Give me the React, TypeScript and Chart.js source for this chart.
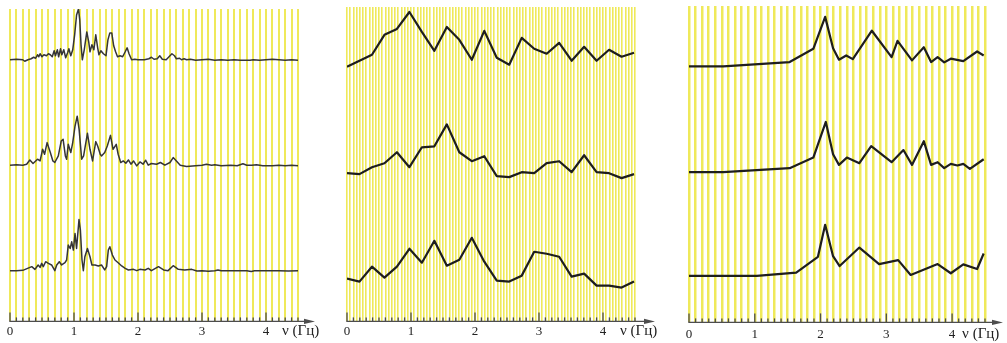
import React, { useEffect, useRef } from "react";
import { Chart, registerables } from "chart.js";

Chart.register(...registerables);

// ---------- shared axis data ----------
const freqMin = 0;
const freqMax = 4.5;
const axisTitle = "ν (Гц)";

// ---------- left panel (dense spectra) ----------
const leftTopFreq = [0, 0.1, 0.2, 0.23, 0.28, 0.33, 0.37, 0.4, 0.43, 0.45, 0.47, 0.5, 0.53, 0.57, 0.6, 0.63, 0.66, 0.69, 0.71, 0.74, 0.76, 0.79, 0.81, 0.84, 0.87, 0.9, 0.92, 0.95, 0.98, 1.01, 1.04, 1.07, 1.09, 1.11, 1.13, 1.16, 1.2, 1.23, 1.25, 1.28, 1.31, 1.34, 1.37, 1.39, 1.42, 1.46, 1.5, 1.53, 1.56, 1.59, 1.62, 1.65, 1.68, 1.72, 1.76, 1.8, 1.83, 1.86, 1.9, 1.95, 2.0, 2.1, 2.17, 2.21, 2.25, 2.3, 2.34, 2.38, 2.44, 2.5, 2.53, 2.57, 2.6, 2.65, 2.68, 2.72, 2.76, 2.82, 2.9, 3.0, 3.1, 3.2, 3.3, 3.4, 3.5, 3.6, 3.75, 3.8, 3.9, 4.0, 4.1, 4.2, 4.3, 4.4, 4.5];
const leftTopAmp = [0, 0.5, 0, -1.5, 0, 1, 2.5, 1.5, 5, 3, 6, 3, 5, 4, 6, 5, 3, 9, 4, 10, 3, 11, 5, 10, 2, 7, 11, 4, 10, 25, 45, 51, 40, 15, 0, 10, 28, 18, 8, 15, 10, 25, 12, 5, 9, 6, 4, 20, 27, 27, 14, 8, 3, 4, 3, 8, 12, 6, 0, 0.5, 0, 0, 1, 2.5, 0.5, 1, 4, 0.5, 0, 4, 6, 4, 1, 1.5, 0, 1, 0, 0.5, -0.5, 0, 0.5, -0.5, 0, -0.5, 0, -0.5, -0.5, 0, -0.5, 0, 0.5, 0, -0.5, 0, -0.5];

const leftMidFreq = [0, 0.1, 0.2, 0.26, 0.31, 0.36, 0.43, 0.47, 0.51, 0.54, 0.58, 0.63, 0.67, 0.7, 0.755, 0.8, 0.83, 0.865, 0.885, 0.91, 0.95, 0.98, 1.016, 1.05, 1.08, 1.12, 1.15, 1.21, 1.25, 1.29, 1.34, 1.37, 1.41, 1.43, 1.48, 1.52, 1.57, 1.61, 1.66, 1.69, 1.73, 1.77, 1.81, 1.85, 1.89, 1.93, 1.98, 2.03, 2.08, 2.12, 2.16, 2.21, 2.29, 2.35, 2.42, 2.5, 2.55, 2.6, 2.66, 2.76, 2.9, 3.0, 3.07, 3.15, 3.2, 3.3, 3.45, 3.55, 3.64, 3.7, 3.78, 3.85, 3.95, 4.1, 4.2, 4.3, 4.4, 4.5];
const leftMidAmp = [0, 0.5, 0, 1, 5.3, 1.7, 6, 4.3, 16, 11, 22.7, 12.7, 4.3, 2.7, 9.3, 24.3, 26, 9.3, 6, 21, 12.7, 22.7, 39.3, 49.3, 36, 6, 9.3, 32, 16, 4.3, 23.7, 19.3, 11, 9.3, 12.7, 19.3, 30, 16, 21, 11, 2.7, 4.3, 2, 5.3, 1, 4.3, -0.7, 3.3, 1, 5, 0, 1.7, 1, 2.7, 0, 2.7, 7.7, 4.3, 0, -1.3, -0.5, 0, 1, 0, 0.5, -0.5, 0, -0.5, 1.5, 0, 0, 0.5, -0.5, -0.5, 0, -0.5, 0, -0.5];

const leftBotFreq = [0, 0.1, 0.2, 0.34, 0.39, 0.44, 0.47, 0.495, 0.52, 0.557, 0.6, 0.65, 0.7, 0.73, 0.77, 0.807, 0.859, 0.885, 0.91, 0.94, 0.964, 0.99, 1.016, 1.04, 1.078, 1.1, 1.125, 1.146, 1.17, 1.21, 1.25, 1.28, 1.33, 1.38, 1.43, 1.48, 1.51, 1.536, 1.56, 1.6, 1.64, 1.69, 1.745, 1.8, 1.85, 1.93, 1.98, 2.03, 2.11, 2.16, 2.21, 2.32, 2.4, 2.47, 2.55, 2.63, 2.73, 2.84, 2.92, 3.0, 3.1, 3.2, 3.25, 3.3, 3.5, 3.7, 3.77, 3.82, 4.0, 4.2, 4.35, 4.5];
const leftBotAmp = [0, 0, 0.3, 4, 1.3, 5.7, 3.3, 7.3, 4, 9, 7.3, 5.7, 0, 5.7, 9, 5.7, 8, 10.7, 25.7, 22.3, 29, 20.7, 37.3, 22.3, 51.3, 40.7, 10.7, 0, 14, 22.3, 14, 5.7, 5.7, 4.7, 5.7, 0.7, 4, 20.7, 24, 15.7, 10.7, 8, 4.7, 2.3, 0.7, 1.3, 0, 1.3, 0.7, 2.3, 0, 4, 0.7, 0, 5, 1.3, 0.7, 1.3, -0.3, 0, -0.5, 0, 0.7, 0, 0, 0, -0.8, 0, 0, 0, -0.3, 0];

const leftOffsets = [263, 157, 51];

// ---------- middle panel ----------
const midFreq = [0, 0.195, 0.39, 0.585, 0.78, 0.975, 1.17, 1.365, 1.56, 1.755, 1.95, 2.145, 2.34, 2.535, 2.73, 2.925, 3.12, 3.315, 3.51, 3.705, 3.9, 4.095, 4.29, 4.485];
const midTopAmp = [0, 6, 12, 32, 38, 55, 35, 16, 40, 27, 7, 36, 9, 2, 29, 18, 13, 24, 6, 20, 6, 17, 10, 14];
const midMidAmp = [0, -1, 6, 10, 21, 6, 26, 27, 49, 21, 12, 17, -3, -4, 1, 0, 10, 12, 1, 18, 1, 0, -5, -1];
const midBotAmp = [0, -3, 12, 1, 12, 30, 16, 38, 13, 19, 41, 17, -2, -3, 3, 27, 25, 22, 2, 5, -7, -7, -9, -3];
const midOffsets = [256, 149, 43];

// ---------- right panel ----------
const rightTopFreq = [0, 0.52, 1.53, 1.89, 2.07, 2.19, 2.28, 2.39, 2.49, 2.78, 3.08, 3.17, 3.39, 3.57, 3.68, 3.78, 3.88, 3.98, 4.17, 4.38, 4.48];
const rightTopAmp = [0, 0, 4.3, 17.7, 50, 18.3, 6.7, 11, 7.3, 36, 9.3, 25.7, 6, 19.3, 4.3, 9.3, 4, 7.7, 5.3, 15, 11];
const rightMidFreq = [0, 0.52, 1.53, 1.89, 2.08, 2.19, 2.28, 2.4, 2.59, 2.77, 3.08, 3.26, 3.39, 3.57, 3.68, 3.78, 3.88, 3.98, 4.08, 4.17, 4.27, 4.48];
const rightMidAmp = [0, 0, 4, 14.7, 50.7, 18, 7.3, 14.7, 9, 26.3, 10, 22.3, 7.3, 31.3, 7.3, 10, 4, 8.3, 6.7, 8.3, 3.3, 13];
const rightBotFreq = [0, 1.03, 1.63, 1.96, 2.07, 2.19, 2.29, 2.59, 2.89, 3.18, 3.37, 3.78, 3.98, 4.17, 4.38, 4.48];
const rightBotAmp = [0, 0, 3.3, 19.3, 51.7, 20, 10, 28.7, 12, 16, 1, 12, 2.7, 11.7, 7, 22.7];
const rightOffsets = [259, 152, 47];

type Trace = { freq: number[]; amp: number[]; offset: number };
type PanelCfg = {
  left: number;
  top: number;
  width: number;
  height: number;
  pad: { left: number; right: number; top: number; bottom: number };
  yMax: number;
  stripeStep: number;
  stripeWidth: number;
  lineWidth: number;
  lineColor: string;
  tickPadding: number;
  titleOffset: number;
  arrowExt: number;
  traces: Trace[];
};

const SERIF = '"Liberation Serif", "Times New Roman", "DejaVu Serif", serif';

const axisPlugin = (cfg: PanelCfg) => ({
  id: "arrowAxis",
  afterDraw(chart: any) {
    const xs = chart.scales.x;
    const ca = chart.chartArea;
    const ctx = chart.ctx as CanvasRenderingContext2D;
    const y0 = ca.bottom;
    ctx.save();
    ctx.strokeStyle = "#4d4d4d";
    ctx.fillStyle = "#4d4d4d";
    ctx.lineWidth = 1.3;
    xs.ticks.forEach((t: any) => {
      const v = t.value;
      const tenth = Math.round(v * 10);
      if (Math.abs(v * 10 - tenth) > 1e-6) return;
      const px = xs.getPixelForValue(v);
      const major = tenth % 10 === 0;
      ctx.beginPath();
      ctx.moveTo(px, y0);
      ctx.lineTo(px, y0 - (major ? 9 : 4));
      ctx.stroke();
    });
    const xStart = xs.getPixelForValue(freqMin) - 0.6;
    const xEnd = ca.right + cfg.arrowExt;
    ctx.beginPath();
    ctx.moveTo(xStart, y0);
    ctx.lineTo(xEnd - 6, y0);
    ctx.stroke();
    ctx.beginPath();
    ctx.moveTo(xEnd, y0);
    ctx.lineTo(xEnd - 11, y0 - 2.6);
    ctx.lineTo(xEnd - 11, y0 + 2.6);
    ctx.closePath();
    ctx.fill();
    ctx.fillStyle = "#222";
    ctx.font = `15px ${SERIF}`;
    ctx.textAlign = "left";
    ctx.textBaseline = "middle";
    ctx.fillText(axisTitle, xs.getPixelForValue(4) + cfg.titleOffset, y0 + 10 + (cfg.tickPadding - 2));
    ctx.restore();
  },
});

function Panel({ cfg }: { cfg: PanelCfg }) {
  const ref = useRef<HTMLCanvasElement | null>(null);
  useEffect(() => {
    if (!ref.current) return;
    const chart = new Chart(ref.current, {
      type: "line",
      data: {
        datasets: cfg.traces.map((tr) => ({
          data: tr.freq.map((f, i) => ({ x: f, y: tr.offset + tr.amp[i] })),
          borderColor: cfg.lineColor,
          borderWidth: cfg.lineWidth,
          pointRadius: 0,
          tension: 0,
          fill: false,
          borderJoinStyle: "round" as const,
        })),
      },
      options: {
        animation: false,
        responsive: false,
        devicePixelRatio: 1,
        layout: { padding: cfg.pad },
        plugins: { legend: { display: false }, tooltip: { enabled: false } },
        events: [],
        scales: {
          x: {
            type: "linear",
            min: freqMin,
            max: freqMax,
            border: { display: false },
            grid: {
              color: "#efe95a",
              lineWidth: cfg.stripeWidth,
              drawTicks: false,
            },
            ticks: {
              stepSize: cfg.stripeStep,
              autoSkip: false,
              maxRotation: 0,
              minRotation: 0,
              padding: cfg.tickPadding,
              color: "#222",
              font: { family: SERIF, size: 13 },
              callback: (value: any) => {
                const v = Number(value);
                return Math.abs(v - Math.round(v)) < 1e-6 ? String(Math.round(v)) : "";
              },
            },
          },
          y: { display: false, min: 0, max: cfg.yMax },
        },
      },
      plugins: [axisPlugin(cfg)],
    });
    return () => chart.destroy();
  }, [cfg]);
  return (
    <div style={{ position: "absolute", left: cfg.left, top: cfg.top, width: cfg.width, height: cfg.height }}>
      <canvas ref={ref} width={cfg.width} height={cfg.height} style={{ width: cfg.width, height: cfg.height, display: "block" }} />
    </div>
  );
}

const panels: PanelCfg[] = [
  {
    left: 0, top: 0, width: 330, height: 343,
    pad: { left: 10, right: 32, top: 9, bottom: 2 },
    yMax: 314, stripeStep: 0.1, stripeWidth: 2, lineWidth: 1.5, lineColor: "#353535",
    tickPadding: 2, titleOffset: 16, arrowExt: 17,
    traces: [
      { freq: leftTopFreq, amp: leftTopAmp, offset: leftOffsets[0] },
      { freq: leftMidFreq, amp: leftMidAmp, offset: leftOffsets[1] },
      { freq: leftBotFreq, amp: leftBotAmp, offset: leftOffsets[2] },
    ],
  },
  {
    left: 330, top: 0, width: 340, height: 343,
    pad: { left: 17, right: 35, top: 7, bottom: 2 },
    yMax: 316, stripeStep: 0.05, stripeWidth: 1.6, lineWidth: 2.2, lineColor: "#1e1e1e",
    tickPadding: 2, titleOffset: 17, arrowExt: 20,
    traces: [
      { freq: midFreq, amp: midTopAmp, offset: midOffsets[0] },
      { freq: midFreq, amp: midMidAmp, offset: midOffsets[1] },
      { freq: midFreq, amp: midBotAmp, offset: midOffsets[2] },
    ],
  },
  {
    left: 670, top: 0, width: 337, height: 346,
    pad: { left: 19, right: 22, top: 6, bottom: 0 },
    yMax: 320, stripeStep: 0.1, stripeWidth: 2.5, lineWidth: 2.2, lineColor: "#1e1e1e",
    tickPadding: 4, titleOffset: 10, arrowExt: 18,
    traces: [
      { freq: rightTopFreq, amp: rightTopAmp, offset: rightOffsets[0] },
      { freq: rightMidFreq, amp: rightMidAmp, offset: rightOffsets[1] },
      { freq: rightBotFreq, amp: rightBotAmp, offset: rightOffsets[2] },
    ],
  },
];

export default function App() {
  return (
    <div style={{ position: "absolute", left: 0, top: 0, width: 1007, height: 343, background: "#fff", overflow: "hidden" }}>
      {panels.map((p, i) => (
        <Panel key={i} cfg={p} />
      ))}
    </div>
  );
}
